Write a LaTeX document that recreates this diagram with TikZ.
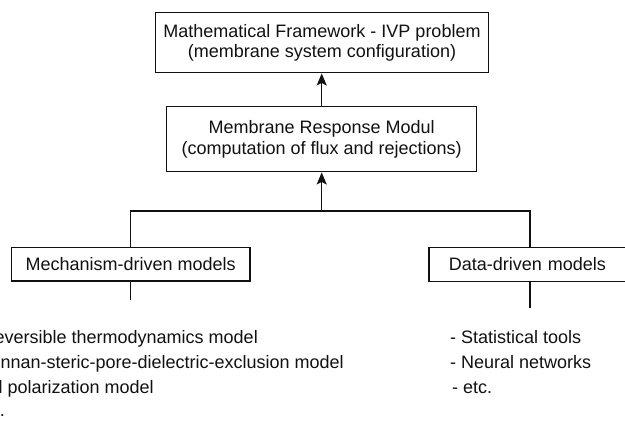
\documentclass[tikz,border=0pt]{standalone}
\usepackage{fontspec}
\setmainfont{Liberation Sans}
\usetikzlibrary{arrows.meta}
\definecolor{ink}{HTML}{111111}
\begin{document}
\begin{tikzpicture}[x=1bp,y=-1bp,
  box/.style={draw=ink, line width=1.5bp, inner sep=0pt, align=center, text=ink,
    font=\fontsize{18bp}{20.5bp}\selectfont},
  conn/.style={draw=ink, line width=1.4bp},
  arr/.style={conn, -{Stealth[length=12bp,width=10bp,inset=2.5bp]}},
  item/.style={inner sep=0pt, text=ink, font=\fontsize{18bp}{21bp}\selectfont}]
\useasboundingbox (0,0) rectangle (625,422);
\clip (0,0) rectangle (625,422);
% boxes
\node[box, minimum width=332.6bp, minimum height=60bp] (fw) at (322,42.7)
  {Mathematical Framework - IVP problem\\(membrane system configuration)};
\node[box, minimum width=310bp, minimum height=65bp] (mr) at (321.7,139.2)
  {Membrane Response Modul\\(computation of flux and rejections)};
\node[box, minimum width=238.7bp, minimum height=33.7bp] (md) at (130.7,264.2)
  {Mechanism-driven models};
\node[box, anchor=west, inner xsep=19.7bp, text width=170bp, align=left,
  minimum height=34.4bp] (dd) at (428.3,264.5) {Data-driven models};
% connector coordinates
\coordinate (hr) at (530,211);
\coordinate (mdend) at (130.7,300);
\coordinate (ddend) at (530,308);
% connectors
\draw[conn] (md.north) |- (hr) -- (hr |- dd.north);
\draw[arr] (mr.south |- hr) -- (mr.south);
\draw[arr] (mr.north) -- (mr.north |- fw.south);
\draw[conn] (md.south) -- (mdend);
\draw[conn] (ddend |- dd.south) -- (ddend);
% lists
\node[item, anchor=base east] (l1) at (258,343) {- Irreversible thermodynamics model};
\node[item, anchor=base east] (l2) at (344,368) {- Donnan-steric-pore-dielectric-exclusion model};
\node[item, anchor=base east] (l3) at (154,393) {- Electrical polarization model};
\node[item, anchor=base east] (l4) at (5,416) {- etc.};
\node[item, anchor=base west] (r1) at (450,343) {- Statistical tools};
\node[item, anchor=base west] (r2) at (450,368) {- Neural networks};
\node[item, anchor=base west] (r3) at (452,393) {- etc.};
\end{tikzpicture}
\end{document}
